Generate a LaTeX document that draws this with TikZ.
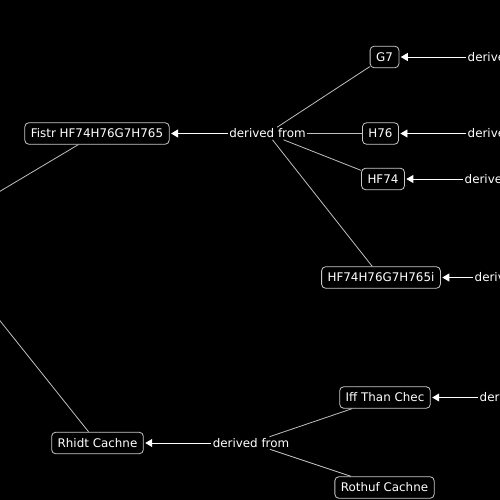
\documentclass[tikz,border=0pt]{standalone}
\usepackage{fontspec}
\setmainfont{DejaVu Sans}
\usetikzlibrary{arrows.meta}
\definecolor{boxline}{HTML}{C8C8C8}
\definecolor{connline}{HTML}{C0C0C0}
\begin{document}
\begin{tikzpicture}[x=1pt,y=-1pt,
  concept/.style={draw=boxline, line width=0.8pt, rounded corners=4pt, text=white,
    font=\fontsize{11.9}{13}\selectfont, minimum height=21.5pt, inner xsep=6pt, inner ysep=2pt},
  linklbl/.style={text=white, font=\fontsize{11.9}{13}\selectfont, inner sep=1.5pt},
  conn/.style={draw=connline, line width=0.8pt},
  arr/.style={draw=white, line width=0.9pt, -{Triangle[length=7pt,width=8pt]}, shorten >=1.5pt}]
\fill[black] (0,0) rectangle (500,500);
\useasboundingbox (0,0) rectangle (500,500);
\clip (0,0) rectangle (500,500);

\node[concept] (fistr) at (97,133.5) {Fistr HF74H76G7H765};
\node[linklbl] (l1) at (267.5,133.5) {derived from};
\node[concept] (g7) at (384.5,57) {G7};
\node[concept] (h76) at (380.5,133.5) {H76};
\node[concept] (hf74) at (383,179) {HF74};
\node[concept] (hfl) at (381,277.5) {HF74H76G7H765i};
\node[concept] (rhidt) at (97.5,443) {Rhidt Cachne};
\node[linklbl] (l2) at (251,443) {derived from};
\node[concept] (iff) at (385,397.5) {Iff Than Chec};
\node[concept] (roth) at (384.5,487.5) {Rothuf Cachne};

\node[linklbl, anchor=west] (r1) at (466,57) {derived from};
\node[linklbl, anchor=west] (r2) at (466,133.5) {derived from};
\node[linklbl, anchor=west] (r3) at (463,179) {derived from};
\node[linklbl, anchor=west] (r4) at (473,277.5) {derived from};
\node[linklbl, anchor=west] (r5) at (478,397.5) {derived from};
\coordinate (lp) at (-70,233);

\draw[arr] (l1) -- (fistr);
\draw[conn] (l1) -- (g7);
\draw[conn] (l1) -- (h76);
\draw[conn] (l1) -- (hf74);
\draw[conn] (l1) -- (hfl);
\draw[arr] (r1) -- (g7);
\draw[arr] (r2) -- (h76);
\draw[arr] (r3) -- (hf74);
\draw[arr] (r4) -- (hfl);
\draw[arr] (r5) -- (iff);
\draw[conn] (lp) -- (fistr);
\draw[conn] (lp) -- (rhidt);
\draw[arr] (l2) -- (rhidt);
\draw[conn] (l2) -- (iff);
\draw[conn] (l2) -- (roth);
\end{tikzpicture}
\end{document}
